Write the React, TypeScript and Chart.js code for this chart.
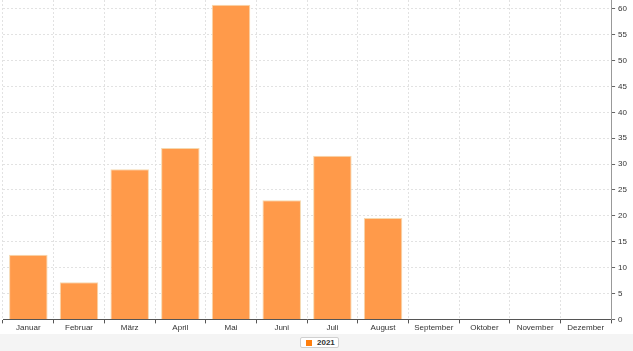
import React, { useEffect, useRef } from "react";
import { Chart, registerables } from "chart.js";

Chart.register(...registerables);

const months = ["Januar", "Februar", "März", "April", "Mai", "Juni", "Juli", "August", "September", "Oktober", "November", "Dezember"];
const values2021 = [12.5, 7.2, 29.0, 33.1, 60.8, 23.0, 31.6, 19.6, null, null, null, null];
const yTicks = [0, 5, 10, 15, 20, 25, 30, 35, 40, 45, 50, 55, 60];
const seriesLabel = "2021";

export default function App() {
  const ref = useRef<HTMLCanvasElement | null>(null);

  useEffect(() => {
    document.body.style.margin = "0";
    const ctx = ref.current!;
    const chart = new Chart(ctx, {
      type: "bar",
      data: {
        labels: months,
        datasets: [
          {
            label: seriesLabel,
            data: values2021 as any,
            backgroundColor: "#ff9a4a",
            borderColor: "#f6d8ae",
            borderWidth: 1,
            categoryPercentage: 0.76,
            barPercentage: 1,
          },
        ],
      },
      options: {
        animation: false,
        responsive: false,
        maintainAspectRatio: false,
        layout: { padding: { left: 3, right: 3, top: 0, bottom: 0 } },
        plugins: { legend: { display: false }, tooltip: { enabled: false } },
        scales: {
          x: {
            grid: {
              color: "#e2e2e2",
              tickColor: "#555",
              tickLength: 4,
              offset: true,
            },
            border: { color: "#555", width: 1, dash: [2, 2] },
            ticks: {
              color: "#333",
              padding: 0,
              font: { family: "'Liberation Sans', Arial, sans-serif", size: 8 },
              maxRotation: 0,
              autoSkip: false,
            },
          },
          y: {
            position: "right",
            min: 0,
            max: 61.7,
            afterBuildTicks: (scale: any) => {
              scale.ticks = yTicks.map((v) => ({ value: v }));
            },
            afterFit: (scale: any) => {
              scale.paddingTop = 0;
            },
            grid: {
              color: "#e2e2e2",
              tickColor: "#666",
              tickLength: 4,
            },
            border: { color: "#999", width: 1, dash: [2, 2] },
            ticks: {
              color: "#333",
              padding: 3,
              font: { family: "'Liberation Sans', Arial, sans-serif", size: 8 },
            },
          },
        },
      },
    });
    return () => chart.destroy();
  }, []);

  return (
    <div style={{ width: 633, height: 351, background: "#f4f4f4", position: "relative" }}>
      <div style={{ width: 633, height: 334, background: "#fff" }}>
        <canvas ref={ref} width={633} height={333} style={{ display: "block" }} />
      </div>
      <div
        style={{
          position: "absolute",
          left: 300,
          top: 337,
          height: 11,
          padding: "0 3px 0 5px",
          background: "#fff",
          border: "1px solid #d0d0d0",
          borderRadius: 2,
          display: "flex",
          alignItems: "center",
          boxSizing: "border-box",
          fontFamily: "'Liberation Sans', Arial, sans-serif",
          fontSize: 8,
          fontWeight: "bold",
          color: "#333",
        }}
      >
        <span style={{ display: "inline-block", width: 6, height: 6, background: "#ff7f0e", marginRight: 5 }} />
        <span>{seriesLabel}</span>
      </div>
    </div>
  );
}
